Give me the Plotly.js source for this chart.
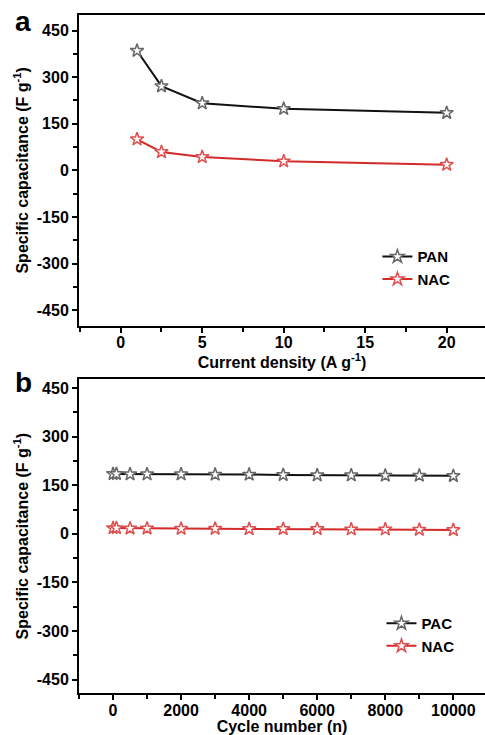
<!DOCTYPE html>
<html><head><meta charset="utf-8">
<script src="https://cdn.plot.ly/plotly-3.0.1.min.js"></script>
<style>html,body{margin:0;padding:0;background:#fff;}#chart{width:485px;height:735px;}</style>
</head><body><div id="chart"></div>
<script>
// Panel a: capacitance vs current density
const currentDensity = [1, 2.5, 5, 10, 20];
const panCapacitance = [385, 271, 216, 198, 185];
const nacCapacitanceA = [100, 59, 43, 29, 18];
// Panel b: cycling stability
const cycleNumber = [1, 100, 500, 1000, 2000, 3000, 4000, 5000, 6000, 7000, 8000, 9000, 10000];
const pacCycle = [185, 185, 184, 184, 184, 183, 183, 182, 181, 181, 180, 180, 179];
const nacCycle = [18, 18, 17, 17, 16, 16, 15, 15, 15, 14, 14, 13, 12];
const yTicks = [-450, -300, -150, 0, 150, 300, 450];
const yTickText = ['-450', '-300', '-150', '0', '150', '300', '450'];
const xTicksA = [0, 5, 10, 15, 20];
const xTicksB = [0, 2000, 4000, 6000, 8000, 10000];

const FONT = "Liberation Sans, Arial, sans-serif";
const blackLine = '#111111', blackMarker = '#666666';
const redLine = '#d42a2a', redMarker = '#e05050';

function trace(x, y, name, lc, mc, xa, ya, leg) {
  return {x: x, y: y, name: name, type: 'scatter', mode: 'lines+markers',
    xaxis: xa, yaxis: ya, legend: leg,
    line: {color: lc, width: 2},
    marker: {symbol: 'star', size: 10, color: '#ffffff', line: {color: mc, width: 1.5}}};
}

const data = [
  trace(currentDensity, panCapacitance, 'PAN', blackLine, blackMarker, 'x', 'y', 'legend'),
  trace(currentDensity, nacCapacitanceA, 'NAC', redLine, redMarker, 'x', 'y', 'legend'),
  trace(cycleNumber, pacCycle, 'PAC', blackLine, blackMarker, 'x2', 'y2', 'legend2'),
  trace(cycleNumber, nacCycle, 'NAC', redLine, redMarker, 'x2', 'y2', 'legend2')
];

const tickFont = {family: FONT, size: 16, color: '#000', weight: 'bold'};
const titleFont = {family: FONT, size: 16, color: '#000', weight: 'bold'};
function yax(domain, range, anchor) {
  return {domain: domain, range: range, anchor: anchor, tickvals: yTicks, ticktext: yTickText,
    showline: true, linewidth: 2, linecolor: '#000', mirror: false,
    ticks: 'outside', ticklen: 5, tickwidth: 2, tickcolor: '#000',
    minor: {dtick: 75, tick0: 0, ticks: 'outside', ticklen: 4, tickwidth: 2, tickcolor: '#000'},
    showgrid: false, zeroline: false, tickfont: tickFont,
    title: {text: 'Specific capacitance (F g<sup>-1</sup>)', font: titleFont, standoff: 4}};
}
function xax(range, anchor, ticks, minorDtick, title) {
  return {domain: [0, 1], range: range, anchor: anchor, tickvals: ticks, ticktext: ticks.map(String),
    showline: true, linewidth: 2, linecolor: '#000', mirror: true,
    ticks: 'outside', ticklen: 5, tickwidth: 2, tickcolor: '#000', ticklabelstandoff: -4,
    minor: {dtick: minorDtick, tick0: 0, ticks: 'outside', ticklen: 4, tickwidth: 2, tickcolor: '#000'},
    showgrid: false, zeroline: false, tickfont: tickFont,
    title: {text: title, font: titleFont, standoff: 2}};
}

const layout = {
  width: 485, height: 735,
  margin: {l: 79, r: 0, t: 0, b: 0},
  paper_bgcolor: '#fff', plot_bgcolor: '#fff',
  showlegend: true,
  xaxis: xax([-2.56, 22.35], 'y', xTicksA, 2.5, 'Current density (A g<sup>-1</sup>)'),
  yaxis: yax([0.5569, 0.9796], [-500, 500], 'x'),
  xaxis2: xax([-1000, 10930], 'y2', xTicksB, 1000, 'Cycle number (n)'),
  yaxis2: yax([0.0567, 0.4844], [-492, 478], 'x2'),
  legend: {x: 0.735, y: 0.673, xanchor: 'left', yanchor: 'top', bgcolor: 'rgba(0,0,0,0)',
    font: {family: FONT, size: 15, color: '#000', weight: 'bold'}, itemwidth: 30, tracegroupgap: 0},
  legend2: {x: 0.745, y: 0.174, xanchor: 'left', yanchor: 'top', bgcolor: 'rgba(0,0,0,0)',
    font: {family: FONT, size: 15, color: '#000', weight: 'bold'}, itemwidth: 30, tracegroupgap: 0},
  annotations: [
    {text: 'a', xref: 'paper', yref: 'paper', x: (13 - 79) / 406, y: 1 - 4/735, xanchor: 'left', yanchor: 'top',
      showarrow: false, font: {family: FONT, size: 28, color: '#000', weight: 'bold'}},
    {text: 'b', xref: 'paper', yref: 'paper', x: (13 - 79) / 406, y: 1 - 365/735, xanchor: 'left', yanchor: 'top',
      showarrow: false, font: {family: FONT, size: 28, color: '#000', weight: 'bold'}}
  ]
};

Plotly.newPlot('chart', data, layout, {displayModeBar: false, staticPlot: true});
</script></body></html>
